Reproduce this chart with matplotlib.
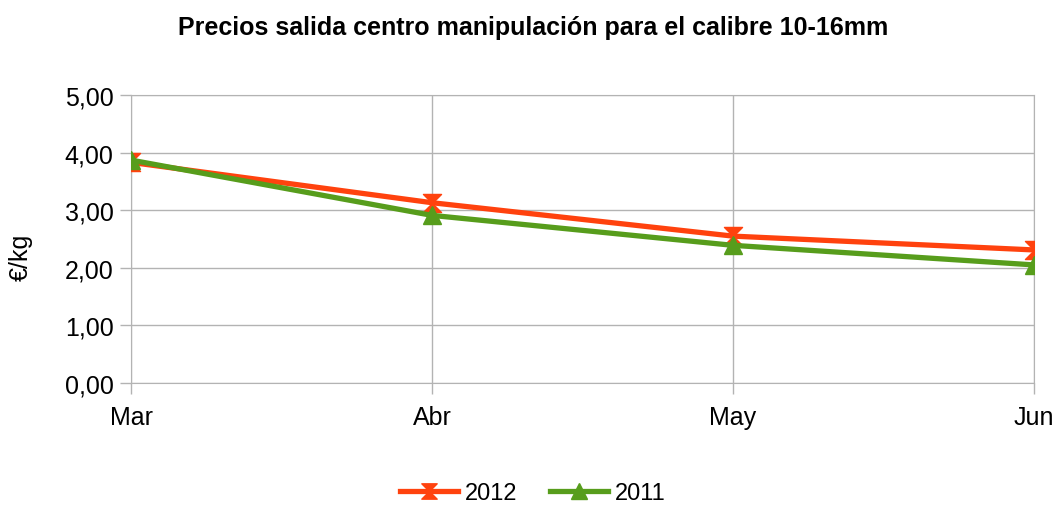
import numpy as np
import matplotlib
matplotlib.use('Agg')
import matplotlib.pyplot as plt
from matplotlib.path import Path
from matplotlib.ticker import FuncFormatter

months = ['Mar', 'Abr', 'May', 'Jun']
precios_2012 = [3.83, 3.13, 2.55, 2.31]
precios_2011 = [3.87, 2.91, 2.39, 2.05]

plt.rcParams['font.family'] = ['Liberation Sans', 'DejaVu Sans']

# hourglass marker for 2012
hourglass = Path([(-1, 1), (1, 1), (0, 0), (1, -1), (-1, -1), (0, 0), (-1, 1)],
                 [Path.MOVETO, Path.LINETO, Path.LINETO, Path.LINETO,
                  Path.LINETO, Path.LINETO, Path.CLOSEPOLY])

fig = plt.figure(figsize=(10.56, 5.06), dpi=100)
ax = fig.add_axes([131 / 1056, 122 / 506, 903 / 1056, 288 / 506])

x = np.arange(len(months))
ax.plot(x, precios_2012, color='#ff420e', lw=3.8, marker=hourglass,
        markersize=13, label='2012', zorder=3)
ax.plot(x, precios_2011, color='#579d1c', lw=3.8, marker='^',
        markersize=13, label='2011', zorder=4)

ax.set_xlim(0, 3)
ax.set_ylim(0, 5)
ax.set_xticks(x)
ax.set_xticklabels(months)
ax.set_yticks(np.arange(0, 5.01, 1))
ax.yaxis.set_major_formatter(FuncFormatter(lambda v, p: f'{v:.2f}'.replace('.', ',')))
ax.grid(True, color='#b3b3b3', lw=1)
ax.set_axisbelow(True)
for s in ax.spines.values():
    s.set_color('#b3b3b3')
ax.tick_params(colors='#b3b3b3', labelcolor='black', labelsize=18, length=8, width=1)
ax.tick_params(axis='y', pad=4.5)
ax.tick_params(axis='x', pad=8)
ax.set_ylabel('€/kg', fontsize=18, va='bottom')
ax.yaxis.set_label_coords(-0.1085, 0.44)

fig.suptitle('Precios salida centro manipulación para el calibre 10-16mm',
             fontsize=18, fontweight='bold', x=533 / 1056, y=1 - 28 / 506, va='center')

fig.legend(loc='center', bbox_to_anchor=(533 / 1056, 1 - 494 / 506), ncol=2,
           frameon=False, fontsize=17, handlelength=2.45, columnspacing=1.4,
           handletextpad=0.3, markerscale=0.85)

fig.savefig('out.png', dpi=100)
